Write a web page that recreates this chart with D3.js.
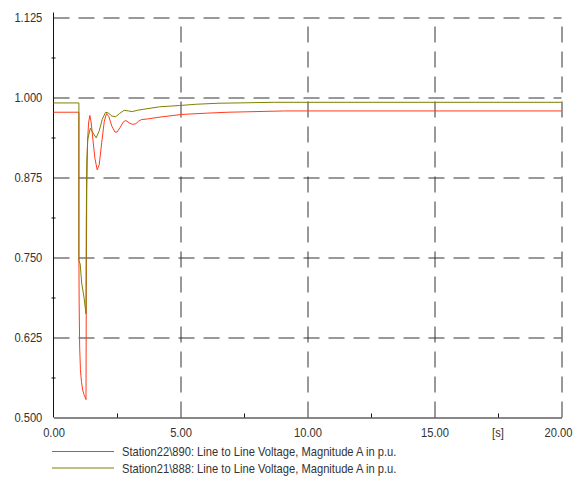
<!DOCTYPE html>
<html>
<head>
<meta charset="utf-8">
<script src="https://cdn.jsdelivr.net/npm/d3@7"></script>
<style>
  html, body { margin: 0; padding: 0; background: #fff; }
  svg { display: block; }
  text { font-family: "Liberation Sans", Arial, sans-serif; fill: #333; }
</style>
</head>
<body>
<svg id="chart" width="576" height="478"></svg>
<script>
// Simulation time axis [s] and voltage axis [p.u.]
const xMajorTicks = [0, 5, 10, 15, 20];
const xMinorTicks = [2.5, 7.5, 12.5, 17.5];
const xUnitLabel = "[s]";
const yMajorTicks = [0.5, 0.625, 0.75, 0.875, 1.0, 1.125];
const yMinorTicks = [0.5625, 0.6875, 0.8125, 0.9375, 1.0625];

const seriesNames = [
  "Station22\\890: Line to Line Voltage, Magnitude A in p.u.",
  "Station21\\888: Line to Line Voltage, Magnitude A in p.u."
];

// Station22\890 voltage magnitude
const timeA = [0, 1.0, 1.0, 1.01, 1.03, 1.06, 1.10, 1.15, 1.20, 1.25, 1.28,
  1.29, 1.31, 1.34, 1.38, 1.43, 1.48, 1.55, 1.63, 1.72, 1.80, 1.90, 2.00,
  2.09, 2.18, 2.30, 2.42, 2.50, 2.62, 2.75, 2.85, 3.00, 3.12, 3.24, 3.35,
  3.46, 3.70, 4.12, 5.04, 6.02, 6.87, 9.10, 20];
const valueA = [0.977, 0.977, 0.752, 0.68, 0.61, 0.575, 0.556, 0.543, 0.536, 0.531, 0.528,
  0.70, 0.86, 0.93, 0.96, 0.972, 0.962, 0.935, 0.905, 0.887, 0.895, 0.93, 0.963,
  0.975, 0.970, 0.955, 0.946, 0.946, 0.953, 0.962, 0.964, 0.960, 0.958, 0.959, 0.963,
  0.9655, 0.9665, 0.969, 0.9735, 0.9755, 0.977, 0.979, 0.979];

// Station21\888 voltage magnitude
const timeB = [0, 1.0, 1.0, 1.05, 1.11, 1.20, 1.28,
  1.29, 1.31, 1.35, 1.45, 1.55, 1.68, 1.80, 1.92, 2.05, 2.15, 2.30, 2.45,
  2.60, 2.78, 2.95, 3.10, 3.30, 3.53, 4.18, 4.97, 5.63, 6.48, 8.70, 20];
const valueB = [0.9915, 0.9915, 0.745, 0.74, 0.71, 0.688, 0.662,
  0.80, 0.90, 0.935, 0.952, 0.945, 0.937, 0.948, 0.966, 0.977, 0.976, 0.971, 0.970,
  0.975, 0.980, 0.979, 0.978, 0.980, 0.9815, 0.9855, 0.9875, 0.9895, 0.991, 0.9925, 0.9925];

const colorA = "#ff3b1c";
const colorB = "#7f7f00";
const gridColor = "#333";
const fontSize = 13;
const squeeze = "scale(0.86,1)";   // narrow lettering

const svg = d3.select("#chart");
const x = d3.scaleLinear().domain([0, 20]).range([53.5, 561.5]);
const y = d3.scaleLinear().domain([0.5, 1.125]).range([417.5, 17.5]);

// dashed grid (the top and right edges are grid lines too)
svg.append("g")
  .attr("transform", `translate(${x(0)},0)`)
  .call(d3.axisLeft(y).tickValues(yMajorTicks.slice(1)).tickSize(-(x(20) - x(0))).tickFormat(""))
  .call(g => g.select(".domain").remove())
  .call(g => g.selectAll(".tick line").attr("stroke", gridColor).attr("stroke-dasharray", "16,9"));

svg.append("g")
  .attr("transform", `translate(0,${y(0.5)})`)
  .call(d3.axisBottom(x).tickValues(xMajorTicks.slice(1)).tickSize(-(y(0.5) - y(1.125))).tickFormat(""))
  .call(g => g.select(".domain").remove())
  .call(g => g.selectAll(".tick line").attr("stroke", gridColor).attr("stroke-dasharray", "16,9"));

// solid axes
const yAxis = svg.append("g")
  .attr("transform", `translate(${x(0)},0)`)
  .call(d3.axisLeft(y).tickValues(yMajorTicks).tickSize(0).tickPadding(13).tickFormat(d3.format(".3f")));
yAxis.select(".domain").attr("stroke", "#111").attr("d", `M0,${y(1.125) - 5}V${y(0.5)}`);
yAxis.selectAll("text").attr("font-size", fontSize).attr("transform", squeeze).style("fill", "#333");

svg.append("g")
  .attr("transform", `translate(${x(0) - 2},0)`)
  .call(d3.axisRight(y).tickValues(yMinorTicks).tickSize(4).tickFormat(""))
  .call(g => g.select(".domain").remove())
  .call(g => g.selectAll(".tick line").attr("stroke", "#111"));

const xAxis = svg.append("g")
  .attr("transform", `translate(0,${y(0.5)})`)
  .call(d3.axisBottom(x).tickValues(xMajorTicks).tickSize(0).tickPadding(10).tickFormat(d3.format(".2f")));
xAxis.select(".domain").attr("stroke", "#111");
xAxis.selectAll("text").attr("font-size", fontSize).attr("transform", squeeze).style("fill", "#333");
xAxis.selectAll(".tick").filter(d => d === 20).select("text").attr("x", -4);

svg.append("g")
  .attr("transform", `translate(0,${y(0.5)})`)
  .call(d3.axisTop(x).tickValues(xMinorTicks).tickSize(4).tickFormat(""))
  .call(g => g.select(".domain").remove())
  .call(g => g.selectAll(".tick line").attr("stroke", "#111"));

svg.append("g")
  .attr("transform", `translate(${x(17.5)},${y(0.5) + 10})`)
  .append("text")
  .attr("transform", squeeze)
  .attr("dy", "0.71em")
  .attr("text-anchor", "middle")
  .attr("font-size", fontSize)
  .text(xUnitLabel);

// voltage traces
const line = d3.line().x(d => x(d[0])).y(d => y(d[1]));
const seriesData = [
  { t: timeA, v: valueA, color: colorA },
  { t: timeB, v: valueB, color: colorB }
];
seriesData.forEach(s => {
  svg.append("path")
    .datum(s.t.map((t, i) => [t, s.v[i]]))
    .attr("fill", "none")
    .attr("stroke", s.color)
    .attr("stroke-width", 1)
    .attr("d", line);
});

// legend
const legend = svg.append("g");
seriesData.forEach((s, i) => {
  const ly = 451.5 + i * 16.5;
  legend.append("line")
    .attr("x1", 52).attr("x2", 114).attr("y1", ly).attr("y2", ly)
    .attr("stroke", s.color).attr("stroke-width", 1);
  legend.append("g")
    .attr("transform", `translate(122,${ly})`)
    .append("text")
    .attr("transform", squeeze)
    .attr("dy", "0.35em")
    .attr("font-size", fontSize)
    .text(seriesNames[i]);
});
</script>
</body>
</html>
